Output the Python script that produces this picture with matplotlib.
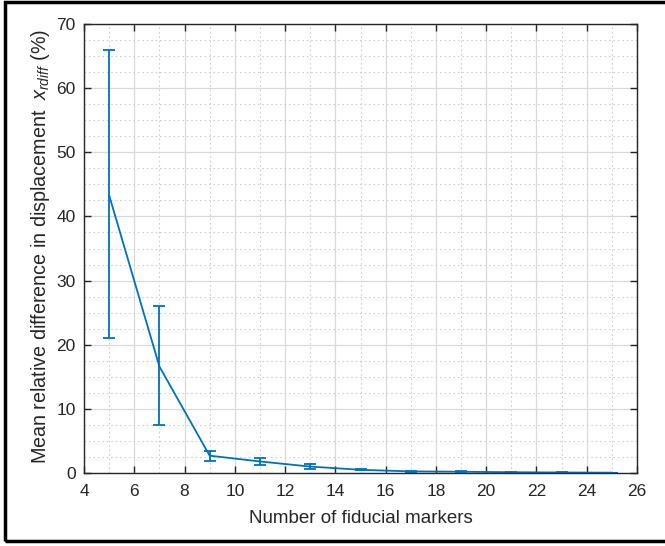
import matplotlib
matplotlib.use('Agg')
from matplotlib import pyplot as plt
from matplotlib.patches import Rectangle
from matplotlib.ticker import MultipleLocator

# number of markers vs mean relative displacement difference (%)
n_markers = [5, 7, 9, 11, 13, 15, 17, 19, 21, 23, 25]
mean_diff = [43.3, 16.6, 2.7, 1.8, 1.0, 0.5, 0.25, 0.2, 0.12, 0.08, 0.05]
err_low = [22.3, 9.1, 0.9, 0.5, 0.4, 0.1, 0.1, 0.08, 0.05, 0.03, 0.02]
err_high = [22.7, 9.5, 0.8, 0.6, 0.4, 0.1, 0.05, 0.06, 0.04, 0.03, 0.02]

plt.rcParams['font.family'] = ['Liberation Sans', 'DejaVu Sans']
plt.rcParams['mathtext.fontset'] = 'custom'
plt.rcParams['mathtext.it'] = 'Liberation Sans:italic'
plt.rcParams['mathtext.rm'] = 'Liberation Sans'

fig = plt.figure(figsize=(6.65, 5.46), dpi=100)
ax = fig.add_axes([84 / 665, 1 - 473 / 546, 553 / 665, 449 / 546])

blue = '#0072BD'
ax.errorbar(n_markers, mean_diff, yerr=[err_low, err_high], color=blue,
            lw=1.3, elinewidth=1.3, capsize=4, capthick=1.3)

ax.set_xlim(4, 26)
ax.set_ylim(0, 70)
ax.xaxis.set_major_locator(MultipleLocator(2))
ax.xaxis.set_minor_locator(MultipleLocator(1))
ax.yaxis.set_major_locator(MultipleLocator(10))
ax.yaxis.set_minor_locator(MultipleLocator(2.5))

ax.grid(which='major', color='#d9d9d9', lw=0.9, ls='-')
ax.grid(which='minor', color='#d0d0d0', lw=0.8, ls=(0, (1.5, 2.5)))
ax.set_axisbelow(True)

ax.tick_params(which='major', direction='in', length=5, width=1, top=True, right=True,
               labelsize=12.5, colors='#262626', labelcolor='#262626')
ax.tick_params(which='minor', length=0, top=True, right=True)
ax.tick_params(axis='x', pad=8)
ax.tick_params(axis='y', pad=6)
for s in ax.spines.values():
    s.set_color('#262626')
    s.set_linewidth(1.0)

ax.set_xlabel('Number of fiducial markers', fontsize=13.5, color='#262626', labelpad=8)
ax.set_ylabel(r'Mean relative difference in displacement  $x_{rdiff}$ (%)',
              fontsize=14.2, color='#262626')
ax.yaxis.set_label_coords(-0.058, 0.505)

# outer black frame
fig.patches.append(Rectangle((5 / 665, 1 - 541 / 546), 665 / 665, 539 / 546,
                             transform=fig.transFigure, fill=False,
                             edgecolor='black', lw=2.5, zorder=10))

fig.savefig('out.png', dpi=100, facecolor='white')
